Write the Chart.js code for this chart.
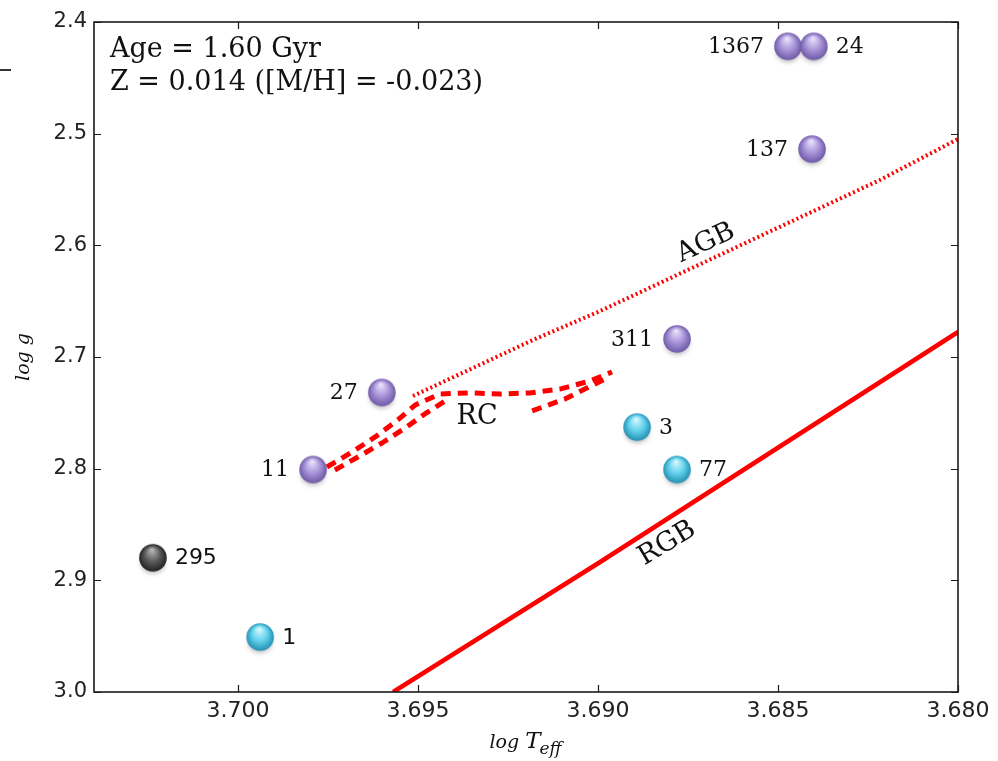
<!DOCTYPE html>
<html>
<head>
<meta charset="utf-8">
<script src="https://cdn.jsdelivr.net/npm/chart.js@4/dist/chart.umd.min.js"></script>
<style>
  html, body { margin: 0; padding: 0; background: #ffffff; }
  #wrap { position: relative; width: 998px; height: 761px; }
</style>
</head>
<body>
<div id="wrap"><canvas id="hrd" width="998" height="761"></canvas></div>
<script>
// Axis tick values
const xTickValues = [3.700, 3.695, 3.690, 3.685, 3.680];
const yTickValues = [2.4, 2.5, 2.6, 2.7, 2.8, 2.9, 3.0];

// Stars (star id, log Teff, log g), grouped by symbol colour
const purpleIds  = ['1367', '24', '137', '311', '27', '11'];
const purpleTeff = [3.68478, 3.68406, 3.68411, 3.68786, 3.69606, 3.69797];
const purpleLogg = [2.420, 2.420, 2.512, 2.682, 2.730, 2.799];

const cyanIds  = ['3', '77', '1'];
const cyanTeff = [3.68897, 3.68786, 3.69944];
const cyanLogg = [2.761, 2.799, 2.949];

const grayIds  = ['295'];
const grayTeff = [3.70242];
const grayLogg = [2.878];

// Which side of the symbol each id is written on
const purpleSide = ['left', 'right', 'left', 'left', 'left', 'left'];
const cyanSide   = ['right', 'right', 'right'];
const graySide   = ['right'];

// Isochrone branches
const rgbTeff = [3.69569, 3.68994, 3.68000];
const rgbLogg = [3.0000, 2.8836, 2.6776];

const agbTeff = [3.69514, 3.69181, 3.68994, 3.68217, 3.68000];
const agbLogg = [2.7349, 2.6848, 2.6588, 2.5415, 2.5048];

// Red clump: outgoing track, return track and the short lower leg
const rcTeffA = [3.69753, 3.69683, 3.69619, 3.69556, 3.69508, 3.69439, 3.69356, 3.69272, 3.69189, 3.69106, 3.69022, 3.68961];
const rcLoggA = [2.7985, 2.7851, 2.7716, 2.7564, 2.7430, 2.7331, 2.7322, 2.7331, 2.7322, 2.7287, 2.7215, 2.7134];
const rcTeffB = [3.69731, 3.69667, 3.69600, 3.69536, 3.69481, 3.69425];
const rcLoggB = [2.8012, 2.7896, 2.7770, 2.7636, 2.7510, 2.7394];
const rcTeffC = [3.69183, 3.69092, 3.68975];
const rcLoggC = [2.7483, 2.7376, 2.7188];

const pts = (xs, ys) => xs.map((x, i) => ({ x: x, y: ys[i] }));

// Shaded sphere sprite used as the point style
function ballSprite(hi, mid, lo) {
  const cv = document.createElement('canvas');
  cv.width = 48; cv.height = 64;
  const g = cv.getContext('2d');
  const cx = 24 + 2, cy = 32 + 2, r = 13.8;
  g.save();
  g.filter = 'blur(2.5px)';
  g.fillStyle = 'rgba(0,0,0,0.28)';
  g.beginPath();
  g.ellipse(cx, cy + 6, r * 0.85, r * 0.7, 0, 0, Math.PI * 2);
  g.fill();
  g.restore();
  const grad = g.createRadialGradient(cx - 1, cy - r * 0.6, 0.5, cx, cy, r);
  grad.addColorStop(0, hi);
  grad.addColorStop(0.55, mid);
  grad.addColorStop(1, lo);
  g.fillStyle = grad;
  g.beginPath();
  g.arc(cx, cy, r, 0, Math.PI * 2);
  g.fill();
  return cv;
}
const purpleBall = ballSprite('#ebe4fd', '#a893d8', '#6e5aa6');
const cyanBall   = ballSprite('#d8f8ff', '#62d2ec', '#2590b4');
const grayBall   = ballSprite('#b8b8b8', '#5a5a5a', '#222222');

const red = '#ff0000';

function starSet(ids, xs, ys, side, sprite) {
  return {
    type: 'scatter',
    data: pts(xs, ys),
    starIds: ids,
    starSide: side,
    pointStyle: sprite,
    pointRadius: 14,
    pointHoverRadius: 14,
    order: 0
  };
}
function lineSet(xs, ys, width, dash) {
  return {
    type: 'line',
    data: pts(xs, ys),
    showLine: true,
    borderColor: red,
    backgroundColor: red,
    borderWidth: width,
    borderDash: dash,
    borderCapStyle: 'butt',
    borderJoinStyle: 'round',
    pointRadius: 0,
    fill: false,
    tension: 0,
    order: 2
  };
}

// Tick marks pointing into the plot, plus the closed frame
const framePlugin = {
  id: 'frame',
  afterDatasetsDraw(chart) {
    const { ctx, chartArea: a, scales: { x, y } } = chart;
    ctx.save();
    ctx.strokeStyle = '#1a1a1a';
    ctx.lineWidth = 1.2;
    ctx.beginPath();
    xTickValues.forEach(v => {
      const px = Math.round(x.getPixelForValue(v)) + 0.5;
      ctx.moveTo(px, a.bottom); ctx.lineTo(px, a.bottom - 7);
      ctx.moveTo(px, a.top); ctx.lineTo(px, a.top + 7);
    });
    yTickValues.forEach(v => {
      const py = Math.round(y.getPixelForValue(v)) + 0.5;
      ctx.moveTo(a.left, py); ctx.lineTo(a.left + 7, py);
      ctx.moveTo(a.right, py); ctx.lineTo(a.right - 7, py);
    });
    ctx.stroke();
    ctx.lineWidth = 1.6;
    ctx.strokeRect(a.left, a.top, a.right - a.left, a.bottom - a.top);
    ctx.restore();
  }
};

// Star ids next to the symbols
const idPlugin = {
  id: 'starIds',
  afterDatasetsDraw(chart) {
    const ctx = chart.ctx;
    ctx.save();
    ctx.fillStyle = '#111';
    ctx.textBaseline = 'middle';
    chart.data.datasets.forEach((ds, di) => {
      if (!ds.starIds) return;
      const meta = chart.getDatasetMeta(di);
      meta.data.forEach((el, i) => {
        const id = ds.starIds[i];
        const sans = (id === '295' || id === '1');
        ctx.font = sans ? '22px "DejaVu Sans"' : '22px "DejaVu Serif"';
        const bx = el.x + 2, by = el.y + 2;
        if (ds.starSide[i] === 'left') {
          ctx.textAlign = 'right';
          ctx.fillText(id, bx - 24, by + 1);
        } else {
          ctx.textAlign = 'left';
          ctx.fillText(id, bx + 22, by + 1);
        }
      });
    });
    ctx.restore();
  }
};

// Branch names, isochrone parameters and axis titles
const textPlugin = {
  id: 'texts',
  afterDraw(chart) {
    const { ctx, chartArea: a, scales: { x, y } } = chart;
    ctx.save();
    ctx.fillStyle = '#111';
    const branchLabels = [
      { t: 'AGB', teff: 3.6870, logg: 2.598, ang: -25 },
      { t: 'RGB', teff: 3.68808, logg: 2.8670, ang: -31 },
      { t: 'RC',  teff: 3.69336, logg: 2.7540, ang: 0 }
    ];
    ctx.font = '27px "DejaVu Serif"';
    ctx.textAlign = 'center';
    ctx.textBaseline = 'middle';
    branchLabels.forEach(b => {
      ctx.save();
      ctx.translate(x.getPixelForValue(b.teff), y.getPixelForValue(b.logg));
      ctx.rotate(b.ang * Math.PI / 180);
      ctx.fillText(b.t, 0, 0);
      ctx.restore();
    });

    ctx.textAlign = 'left';
    ctx.textBaseline = 'alphabetic';
    ctx.font = '27px "DejaVu Serif"';
    ctx.fillText('Age = 1.60 Gyr', a.left + 16, 57);
    ctx.fillText('Z = 0.014 ([M/H] = -0.023)', a.left + 16, 90);

    // y title
    ctx.save();
    ctx.translate(24, (a.top + a.bottom) / 2);
    ctx.rotate(-Math.PI / 2);
    ctx.textAlign = 'center';
    ctx.textBaseline = 'middle';
    ctx.font = 'italic 19px "DejaVu Serif"';
    ctx.fillText('log g', 0, 0);
    ctx.restore();

    // x title with subscript
    const cxm = (a.left + a.right) / 2;
    ctx.textBaseline = 'alphabetic';
    ctx.font = 'italic 19px "DejaVu Serif"';
    const w0 = ctx.measureText('log ').width;
    ctx.font = 'italic 23px "DejaVu Serif"';
    const w1 = ctx.measureText('T').width;
    ctx.font = 'italic 17px "DejaVu Serif"';
    const w2 = ctx.measureText('eff').width;
    let sx = cxm - (w0 + w1 + w2) / 2;
    ctx.font = 'italic 19px "DejaVu Serif"';
    ctx.fillText('log ', sx, 748);
    ctx.font = 'italic 23px "DejaVu Serif"';
    ctx.fillText('T', sx + w0, 748);
    ctx.font = 'italic 17px "DejaVu Serif"';
    ctx.fillText('eff', sx + w0 + w1 - 1, 754);

    // short stroke at the left margin
    ctx.strokeStyle = '#333';
    ctx.lineWidth = 2;
    ctx.beginPath();
    ctx.moveTo(0, 70); ctx.lineTo(11, 70);
    ctx.stroke();
    ctx.restore();
  }
};

const diamondTeff = purpleTeff.concat(cyanTeff);
const diamondLogg = purpleLogg.concat(cyanLogg);

new Chart(document.getElementById('hrd'), {
  type: 'scatter',
  data: {
    datasets: [
      starSet(purpleIds, purpleTeff, purpleLogg, purpleSide, purpleBall),
      starSet(cyanIds, cyanTeff, cyanLogg, cyanSide, cyanBall),
      starSet(grayIds, grayTeff, grayLogg, graySide, grayBall),
      {
        type: 'scatter',
        data: pts(diamondTeff, diamondLogg),
        pointStyle: 'rectRot',
        pointRadius: 11,
        pointBackgroundColor: '#000',
        pointBorderWidth: 0,
        order: 1
      },
      lineSet(rgbTeff, rgbLogg, 4.5, []),
      lineSet(agbTeff, agbLogg, 4, [2, 2.8]),
      lineSet(rcTeffA, rcLoggA, 5, [10, 7]),
      lineSet(rcTeffB, rcLoggB, 5, [10, 7]),
      lineSet(rcTeffC, rcLoggC, 5, [10, 7])
    ]
  },
  options: {
    responsive: false,
    animation: false,
    events: [],
    layout: { padding: { top: 22, right: 40, left: 0, bottom: 0 } },
    plugins: { legend: { display: false }, tooltip: { enabled: false } },
    scales: {
      x: {
        type: 'linear',
        reverse: true,
        min: 3.680,
        max: 3.704,
        afterBuildTicks: s => { s.ticks = xTickValues.map(v => ({ value: v })); },
        afterFit: s => { s.height = 69; },
        grid: { display: false, drawTicks: false },
        border: { display: false },
        ticks: {
          padding: 6,
          autoSkip: false,
          maxRotation: 0,
          color: '#222',
          font: { family: 'DejaVu Sans', size: 22 },
          callback: v => Number(v).toFixed(3)
        }
      },
      y: {
        type: 'linear',
        reverse: true,
        min: 2.4,
        max: 3.0,
        afterBuildTicks: s => { s.ticks = yTickValues.map(v => ({ value: v })); },
        afterFit: s => { s.width = 94; },
        grid: { display: false, drawTicks: false },
        border: { display: false },
        ticks: {
          padding: 7,
          autoSkip: false,
          color: '#222',
          font: { family: 'DejaVu Sans', size: 21 },
          callback: v => Number(v).toFixed(1)
        }
      }
    }
  },
  plugins: [framePlugin, idPlugin, textPlugin]
});
</script>
</body>
</html>
